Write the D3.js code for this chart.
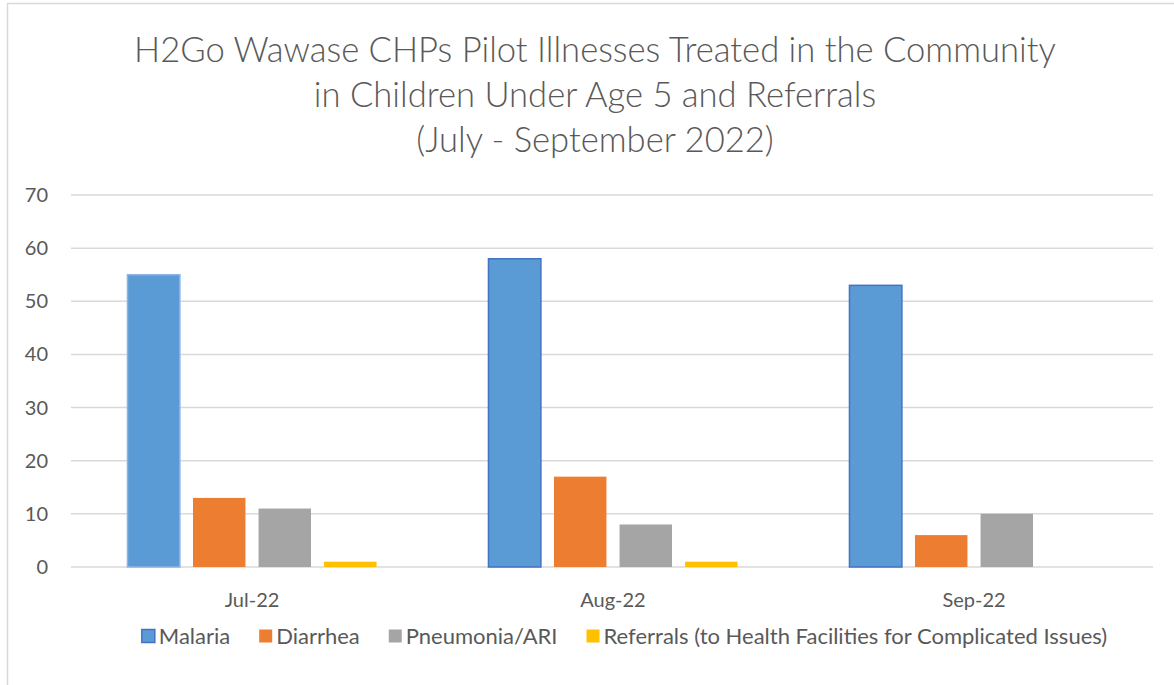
<!DOCTYPE html>
<html><head><meta charset="utf-8">
<script src="https://cdn.jsdelivr.net/npm/d3@7"></script>
<style>body{margin:0;background:#fff}svg{display:block}</style>
</head><body>
<script>
const categories = ["Jul-22", "Aug-22", "Sep-22"];
const seriesNames = ["Malaria", "Diarrhea", "Pneumonia/ARI", "Referrals (to Health Facilities for Complicated Issues)"];
const malaria = [55, 58, 53];
const diarrhea = [13, 17, 6];
const pneumonia = [11, 8, 10];
const referrals = [1, 1, 0];
const yTicks = [0, 10, 20, 30, 40, 50, 60, 70];
const titleLines = ["H2Go Wawase CHPs Pilot Illnesses Treated in the Community", "in Children Under Age 5 and Referrals", "(July - September 2022)"];

const seriesValues = [malaria, diarrhea, pneumonia, referrals];
const colors = ["#5B9BD5", "#ED7D31", "#A5A5A5", "#FFC000"];
const W = 1174, H = 685;
const font = "Lato, 'Open Sans', sans-serif";
const textColor = "#595959";

const svg = d3.select("body").append("svg").attr("width", W).attr("height", H);
svg.append("rect").attr("x", 0).attr("y", 0).attr("width", W).attr("height", H).attr("fill", "#fff");
svg.append("rect").attr("x", 7.5).attr("y", 3.5).attr("width", W + 20).attr("height", H + 20)
  .attr("fill", "none").attr("stroke", "#d9d9d9").attr("stroke-width", 1.5);

const plotL = 71.5, plotR = 1154.5, plotT = 195, plotB = 567;
const y = d3.scaleLinear().domain([0, 70]).range([plotB, plotT]);
const x0 = d3.scaleBand().domain(categories).range([plotL, plotR]).paddingInner(0.31).paddingOuter(0.155);
const x1 = d3.scaleBand().domain(d3.range(4)).range([0, x0.bandwidth()]).paddingInner(0.2).paddingOuter(0);

// gridlines
svg.append("g").selectAll("line").data(yTicks).join("line")
  .attr("x1", 71).attr("x2", 1153).attr("y1", d => y(d)).attr("y2", d => y(d))
  .attr("stroke", "#d9d9d9").attr("stroke-width", 1.5);

// y labels
svg.append("g").selectAll("text").data(yTicks).join("text")
  .attr("x", 48).attr("y", d => y(d)).attr("dy", "0.35em").attr("text-anchor", "end")
  .attr("font-family", font).attr("font-size", 20).attr("fill", textColor).text(d => d);

// bars
const groups = svg.append("g").selectAll("g").data(categories).join("g")
  .attr("transform", d => `translate(${x0(d)},0)`);
groups.selectAll("rect").data((c, ci) => seriesValues.map((s, si) => ({si, ci, v: s[ci]})))
  .join("rect")
  .attr("x", d => x1(d.si)).attr("width", x1.bandwidth())
  .attr("y", d => y(d.v)).attr("height", d => plotB - y(d.v))
  .attr("fill", d => colors[d.si])
  .attr("stroke", d => d.si === 0 ? (d.ci === 0 ? "#8fb4e3" : "#4472C4") : "none")
  .attr("stroke-width", d => d.si === 0 ? 1.5 : 0);

// category labels
svg.append("g").selectAll("text").data(categories).join("text")
  .attr("x", d => x0(d) + x0.bandwidth() / 2).attr("y", 607).attr("text-anchor", "middle")
  .attr("font-family", font).attr("font-size", 20).attr("fill", textColor).text(d => d);

// title
svg.append("g").selectAll("text").data(titleLines).join("text")
  .attr("x", 595).attr("y", (d, i) => 62 + i * 45).attr("text-anchor", "middle")
  .attr("font-family", font).attr("font-weight", 300).attr("font-size", 34.6).attr("fill", textColor).text(d => d);

// legend
const leg = svg.append("g");
const items = leg.selectAll("g").data(seriesNames).join("g");
items.append("rect").attr("width", 13).attr("height", 13).attr("y", -6.5)
  .attr("fill", (d, i) => colors[i])
  .attr("stroke", (d, i) => i === 0 ? "#4472C4" : "none").attr("stroke-width", 1.5);
items.append("text").attr("x", 17).attr("dy", "0.35em")
  .attr("font-family", font).attr("font-size", 22).attr("fill", textColor).text(d => d);
let cx = 0;
items.each(function() {
  const g = d3.select(this);
  g.attr("transform", `translate(${cx},0)`);
  const w = 17 + g.select("text").node().getComputedTextLength();
  cx += w + 29;
});
const total = cx - 29;
leg.attr("transform", `translate(${624.5 - total / 2},636)`);
</script>
</body></html>
